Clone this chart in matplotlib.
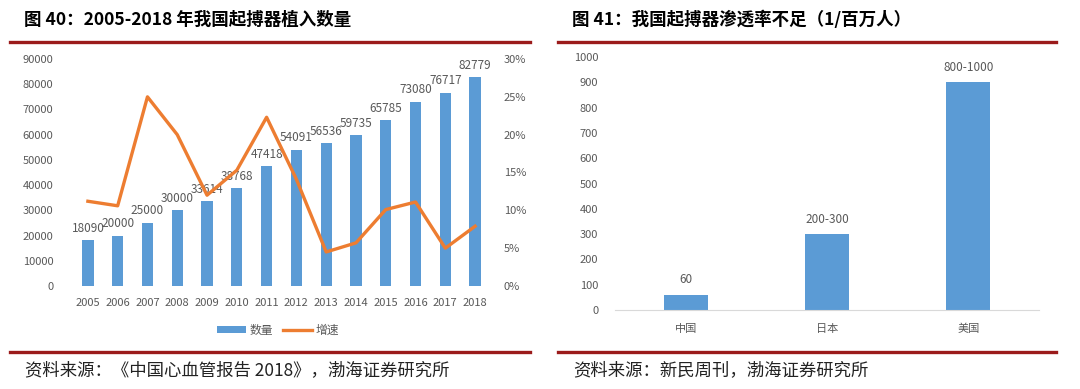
import matplotlib
matplotlib.use("Agg")
import matplotlib.pyplot as plt
from matplotlib.lines import Line2D
from matplotlib.ticker import FuncFormatter

plt.rcParams['font.family'] = ['Noto Sans CJK SC', 'DejaVu Sans']

# ---- data ----
years = ['2005', '2006', '2007', '2008', '2009', '2010', '2011',
         '2012', '2013', '2014', '2015', '2016', '2017', '2018']
counts = [18090, 20000, 25000, 30000, 33614, 38768, 47418,
          54091, 56536, 59735, 65785, 73080, 76717, 82779]
growth = [0.112, 0.106, 0.250, 0.200, 0.120, 0.153, 0.223,
          0.141, 0.045, 0.057, 0.101, 0.111, 0.050, 0.079]

countries = ['中国', '日本', '美国']
penetration = [60, 300, 900]
pen_labels = ['60', '200-300', '800-1000']

title_left = '图 40：2005-2018 年我国起搏器植入数量'
title_right = '图 41：我国起搏器渗透率不足（1/百万人）'
src_left = '资料来源：《中国心血管报告 2018》，渤海证券研究所'
src_right = '资料来源：新民周刊，渤海证券研究所'

BLUE = '#5B9BD5'
ORANGE = '#ED7D31'
GRAY = '#595959'
RED = '#9B1B1B'

W, H = 1080, 389
fig = plt.figure(figsize=(W / 100, H / 100), dpi=100)
fig.patch.set_facecolor('white')


def box(x0, y0, x1, y1):
    return [x0 / W, 1 - y1 / H, (x1 - x0) / W, (y1 - y0) / H]


# ---- titles, rules, sources ----
fig.text(24 / W, 1 - 20 / H, title_left, fontsize=12.6, fontweight='bold',
         va='center', ha='left', color='black')
fig.text(572 / W, 1 - 20 / H, title_right, fontsize=12.6, fontweight='bold',
         va='center', ha='left', color='black')
for (x0, x1) in [(10, 530), (558, 1056)]:
    for y in (42, 352):
        fig.add_artist(Line2D([x0 / W, x1 / W], [1 - y / H, 1 - y / H],
                              color=RED, lw=2.4, transform=fig.transFigure))
fig.text(25 / W, 1 - 370 / H, src_left, fontsize=12.5, style='italic',
         va='center', ha='left', color='#222222')
fig.text(573 / W, 1 - 370 / H, src_right, fontsize=12.5, style='italic',
         va='center', ha='left', color='#222222')

# ---- left chart ----
ax = fig.add_axes(box(73, 59, 490, 286))
x = range(len(years))
ax.bar(x, counts, width=0.38, color=BLUE, label='数量', zorder=2)
ax.set_xlim(-0.5, len(years) - 0.5)
ax.set_ylim(0, 90000)
ax.set_yticks(range(0, 90001, 10000))
ax.set_xticks(list(x))
ax.set_xticklabels(years)
for s in ax.spines.values():
    s.set_visible(False)
ax.tick_params(length=0, labelsize=8, colors=GRAY)
ax.tick_params(axis='y', pad=14)
ax.tick_params(axis='x', pad=9)
for xi, v in zip(x, counts):
    ax.annotate(str(v), (xi, v), xytext=(0, 4), textcoords='offset points',
                ha='center', va='bottom', fontsize=8.5, color=GRAY, zorder=5)

ax2 = ax.twinx()
ax2.plot(list(x), growth, color=ORANGE, lw=2.4, label='增速', zorder=3)
ax2.set_ylim(0, 0.30)
ax2.set_yticks([0, 0.05, 0.10, 0.15, 0.20, 0.25, 0.30])
ax2.yaxis.set_major_formatter(FuncFormatter(lambda v, p: f'{v*100:.0f}%'))
for s in ax2.spines.values():
    s.set_visible(False)
ax2.tick_params(length=0, labelsize=8, colors=GRAY, pad=10)

h1, l1 = ax.get_legend_handles_labels()
h2, l2 = ax2.get_legend_handles_labels()
leg = fig.legend(h1 + h2, l1 + l2, loc='center', ncol=2,
                 bbox_to_anchor=(278 / W, 1 - 330 / H), frameon=False,
                 fontsize=8.5, handlelength=2.4, handleheight=0.6,
                 columnspacing=0.9, handletextpad=0.3)
for t in leg.get_texts():
    t.set_color(GRAY)

# ---- right chart ----
bx = fig.add_axes(box(615, 57, 1039, 310))
xr = range(len(countries))
bx.bar(xr, penetration, width=0.31, color=BLUE, zorder=2)
bx.set_xlim(-0.5, len(countries) - 0.5)
bx.set_ylim(0, 1000)
bx.set_yticks(range(0, 1001, 100))
bx.set_xticks(list(xr))
bx.set_xticklabels(countries)
for k, s in bx.spines.items():
    s.set_visible(k == 'bottom')
bx.spines['bottom'].set_color('#D9D9D9')
bx.tick_params(length=0, labelsize=8, colors=GRAY)
bx.tick_params(axis='y', pad=12)
bx.tick_params(axis='x', pad=10)
for xi, v, lab in zip(xr, penetration, pen_labels):
    bx.annotate(lab, (xi, v), xytext=(0, 6), textcoords='offset points',
                ha='center', va='bottom', fontsize=8.5, color=GRAY)

fig.savefig('out.png', dpi=100, facecolor='white')
